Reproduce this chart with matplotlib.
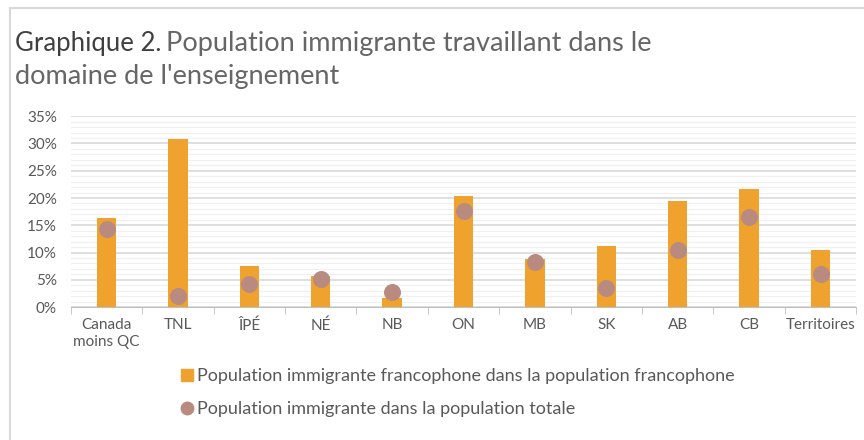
import matplotlib
matplotlib.use('Agg')
import matplotlib.pyplot as plt
import numpy as np
from matplotlib.lines import Line2D
from matplotlib.ticker import MultipleLocator, PercentFormatter

plt.rcParams['font.family'] = ['Lato', 'DejaVu Sans']

# Données
categories = ['Canada\nmoins QC', 'TNL', 'ÎPÉ', 'NÉ', 'NB', 'ON', 'MB', 'SK', 'AB', 'CB', 'Territoires']
francophone = [16.4, 30.8, 7.5, 5.7, 1.7, 20.4, 8.9, 11.2, 19.5, 21.6, 10.5]
totale = [14.3, 2.0, 4.3, 5.1, 2.7, 17.6, 8.3, 3.5, 10.4, 16.5, 6.0]
label_bar = 'Population immigrante francophone dans la population francophone'
label_dot = 'Population immigrante dans la population totale'

BAR_COLOR = '#F0A22E'
DOT_COLOR = '#B98B80'
TEXT_GRAY = '#595959'

fig = plt.figure(figsize=(8.64, 4.40), dpi=100)
ax = fig.add_axes([0.082, 0.302, 0.909, 0.434])

x = np.arange(len(categories))
ax.bar(x, francophone, width=0.27, color=BAR_COLOR, zorder=3)
ax.scatter(x, totale, s=150, color=DOT_COLOR, zorder=4, linewidths=0)

ax.set_xlim(-0.5, len(categories) - 0.5)
ax.set_ylim(0, 35)
ax.yaxis.set_major_locator(MultipleLocator(5))
ax.yaxis.set_minor_locator(MultipleLocator(1))
ax.yaxis.set_major_formatter(PercentFormatter(decimals=0))
ax.grid(True, which='major', axis='y', color='#D9D9D9', linewidth=1.2, zorder=0)
ax.grid(True, which='minor', axis='y', color='#F0F0F0', linewidth=0.9, zorder=0)

ax.set_xticks(x)
ax.set_xticklabels(categories, fontsize=11, color=TEXT_GRAY, linespacing=1.25)
ax.set_xticks(np.arange(len(categories) + 1) - 0.5, minor=True)
ax.tick_params(axis='x', which='major', length=0, pad=8)
ax.tick_params(axis='x', which='minor', length=5, color='#BFBFBF')
ax.tick_params(axis='y', which='both', length=0, labelsize=11, labelcolor=TEXT_GRAY, pad=10)

for side in ['top', 'right', 'left']:
    ax.spines[side].set_visible(False)
ax.spines['bottom'].set_color('#BFBFBF')

# Titre : "Graphique 2." plus foncé, suite en gris
t1 = fig.text(0.017, 0.885, 'Graphique 2.', fontsize=18.5, color='#404040')
fig.canvas.draw()
bb = t1.get_window_extent(fig.canvas.get_renderer()).transformed(fig.transFigure.inverted())
fig.text(bb.x1 + 0.006, 0.885, 'Population immigrante travaillant dans le',
         fontsize=19.5, color='#666666')
fig.text(0.017, 0.81, "domaine de l'enseignement", fontsize=19.5, color='#666666')

# Légende
handles = [
    Line2D([], [], marker='s', linestyle='none', markersize=9, color=BAR_COLOR),
    Line2D([], [], marker='o', linestyle='none', markersize=9, color=DOT_COLOR),
]
fig.legend(handles, [label_bar, label_dot], loc='upper left', bbox_to_anchor=(0.198, 0.18),
           frameon=False, fontsize=13, labelcolor=TEXT_GRAY, handletextpad=0.05,
           labelspacing=0.95, borderaxespad=0, handlelength=1.0)

# Cadre
fig.add_artist(Line2D([0.012, 0.012], [0, 0.982], color='#D9D9D9', linewidth=1.5,
                      transform=fig.transFigure))
fig.add_artist(Line2D([0.012, 1.0], [0.982, 0.982], color='#D9D9D9', linewidth=1.5,
                      transform=fig.transFigure))

fig.savefig('out.png', dpi=100)
